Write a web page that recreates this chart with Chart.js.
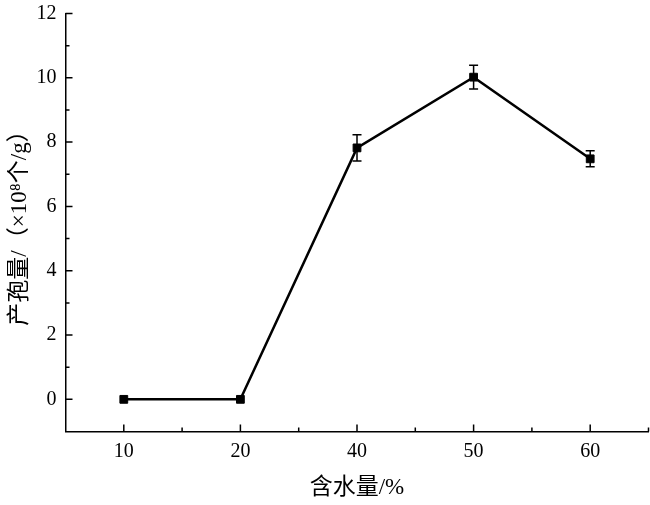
<!DOCTYPE html>
<html>
<head>
<meta charset="utf-8">
<script src="https://cdn.jsdelivr.net/npm/chart.js@4.4.0/dist/chart.umd.min.js"></script>
<style>
html,body{margin:0;padding:0;background:#fff;}
#wrap{width:650px;height:505px;position:relative;}
</style>
</head>
<body>
<div id="wrap"><canvas id="c" width="650" height="505"></canvas></div>
<script>
const categories = ['10', '20', '40', '50', '60'];
const yieldValues = [0, 0, 7.82, 10.02, 7.48];
const yieldErrors = [0, 0, 0.41, 0.37, 0.25];
const yTickLabels = [0, 2, 4, 6, 8, 10, 12];
const xTitle = '含水量/%';
const yTitle = '产孢量/（×10⁸个/g）';

const FONT = '"Liberation Serif", "Times New Roman", "Noto Sans CJK SC", serif';

const errorBarPlugin = {
  id: 'errorBars',
  afterDatasetsDraw(chart) {
    const ctx = chart.ctx;
    const xs = chart.scales.x, ys = chart.scales.y;
    ctx.save();
    ctx.strokeStyle = '#000';
    ctx.lineWidth = 1.5;
    yieldValues.forEach((v, i) => {
      const e = yieldErrors[i];
      if (!e) return;
      const x = xs.getPixelForValue(i);
      const yt = ys.getPixelForValue(v + e);
      const yb = ys.getPixelForValue(v - e);
      ctx.beginPath();
      ctx.moveTo(x, yt); ctx.lineTo(x, yb);
      ctx.moveTo(x - 4.5, yt); ctx.lineTo(x + 4.5, yt);
      ctx.moveTo(x - 4.5, yb); ctx.lineTo(x + 4.5, yb);
      ctx.stroke();
    });
    ctx.restore();
  }
};

const inwardTicksPlugin = {
  id: 'inwardTicks',
  afterDraw(chart) {
    const ctx = chart.ctx;
    const xs = chart.scales.x, ys = chart.scales.y;
    const a = chart.chartArea;
    ctx.save();
    ctx.strokeStyle = '#000';
    ctx.lineWidth = 1.5;
    ctx.beginPath();
    categories.forEach((c, i) => {
      const x = xs.getPixelForValue(i);
      ctx.moveTo(x, a.bottom); ctx.lineTo(x, a.bottom - 7);
      const xm = xs.getPixelForValue(i + 0.5);
      ctx.moveTo(xm, a.bottom); ctx.lineTo(xm, a.bottom - 4);
    });
    for (let v = ys.min + 1; v <= ys.max; v++) {
      const y = ys.getPixelForValue(v);
      const major = yTickLabels.includes(v);
      ctx.moveTo(a.left, y); ctx.lineTo(a.left + (major ? 7 : 4), y);
    }
    ctx.stroke();
    ctx.restore();
  }
};

new Chart(document.getElementById('c'), {
  type: 'line',
  data: {
    labels: categories,
    datasets: [{
      data: yieldValues,
      borderColor: '#000',
      backgroundColor: '#000',
      borderWidth: 2.5,
      pointStyle: 'rect',
      pointRadius: 5.5,
      pointBorderWidth: 1,
      pointBackgroundColor: '#000',
      pointBorderColor: '#000',
      tension: 0,
      clip: false
    }]
  },
  options: {
    responsive: false,
    animation: false,
    devicePixelRatio: 1,
    layout: { autoPadding: false, padding: { top: 13.5, right: 1.5, left: 0, bottom: 0 } },
    plugins: { legend: { display: false }, tooltip: { enabled: false } },
    scales: {
      x: {
        type: 'category',
        offset: true,
        grid: { display: false, drawTicks: false, drawOnChartArea: false },
        border: { display: true, color: '#000', width: 1.5 },
        ticks: { color: '#000', font: { family: FONT, size: 20 }, padding: 8, maxRotation: 0 },
        title: { display: true, text: xTitle, color: '#000', font: { family: FONT, size: 23 }, padding: { top: 0, bottom: 3 } },
        afterFit(s) { s.height = 73.5; s.paddingLeft = 0; s.paddingRight = 0; }
      },
      y: {
        min: -1,
        max: 12,
        grid: { display: false, drawTicks: false, drawOnChartArea: false },
        border: { display: true, color: '#000', width: 1.5 },
        ticks: {
          stepSize: 1,
          autoSkip: false,
          color: '#000',
          font: { family: FONT, size: 20 },
          padding: 9,
          callback: (v) => yTickLabels.includes(v) ? String(v) : ''
        },
        title: { display: true, text: yTitle, color: '#000', font: { family: FONT, size: 23 }, padding: { top: 6, bottom: 0 } },
        afterFit(s) { s.width = 65.5; s.paddingTop = 0; s.paddingBottom = 0; }
      }
    }
  },
  plugins: [errorBarPlugin, inwardTicksPlugin]
});
</script>
</body>
</html>
